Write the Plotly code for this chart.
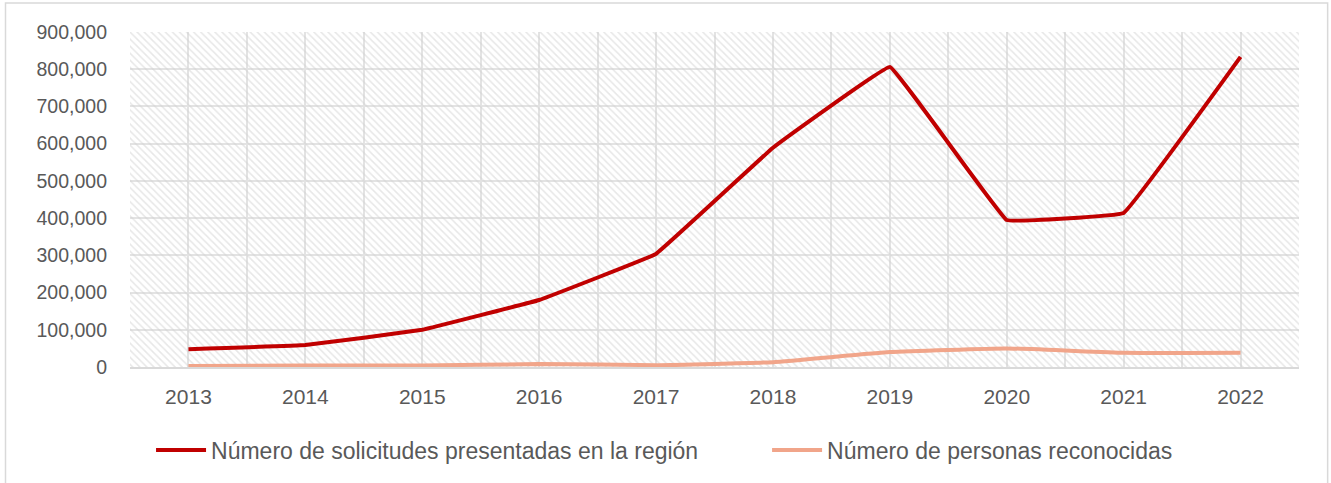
import plotly.graph_objects as go

years = [2013, 2014, 2015, 2016, 2017, 2018, 2019, 2020, 2021, 2022]
solicitudes = [48000, 59000, 100000, 180000, 304000, 589000, 806000, 395000, 414000, 833000]
reconocidas = [3000, 4000, 4000, 8000, 5000, 13000, 40000, 50000, 38000, 38000]
y_ticks = [0, 100000, 200000, 300000, 400000, 500000, 600000, 700000, 800000, 900000]

name_a = "Número de solicitudes presentadas en la región"
name_b = "Número de personas reconocidas"

FONT = "Liberation Sans"
TXT = "#595959"
GRID = "#E3E3E3"

fig = go.Figure()

# hatched plot-area background
fig.add_trace(go.Bar(
    x=years, y=[y_ticks[-1]] * len(years), width=1,
    marker=dict(color="rgba(0,0,0,0)", line=dict(width=0),
                pattern=dict(shape="\\", fgcolor="#CFCFCF", bgcolor="rgba(255,255,255,0)",
                             size=5, solidity=0.3, fillmode="overlay")),
    showlegend=False, hoverinfo="skip",
))

fig.add_trace(go.Scatter(
    x=years, y=solicitudes, mode="lines", name=name_a + "\u00a0" * 10,
    line=dict(color="#C00000", width=4, shape="spline", smoothing=0.15),
))
fig.add_trace(go.Scatter(
    x=years, y=reconocidas, mode="lines", name=name_b,
    line=dict(color="#F1A58A", width=4, shape="spline", smoothing=0.4),
))

fig.update_layout(
    width=1331, height=483,
    margin=dict(l=130, r=32, t=32, b=116, autoexpand=False),
    paper_bgcolor="white", plot_bgcolor="white",
    font=dict(family=FONT, size=18, color=TXT),
    bargap=0,
    showlegend=True,
    legend=dict(orientation="h", x=0.018, xanchor="left", y=-0.248, yanchor="middle",
                font=dict(family=FONT, size=23, color=TXT),
                itemwidth=50, tracegroupgap=0, bgcolor="rgba(0,0,0,0)"),
    shapes=[dict(type="rect", xref="paper", yref="paper",
                 x0=-0.1065, x1=1.0245, y0=-0.37, y1=1.0866,
                 line=dict(color="#D9D9D9", width=1.5), fillcolor="rgba(0,0,0,0)", layer="below")],
)

fig.update_xaxes(
    range=[2012.5, 2022.5], tickvals=years, ticktext=[str(y) for y in years],
    showgrid=True, gridcolor=GRID, gridwidth=1.5,
    minor=dict(tickvals=[y + 0.5 for y in [2012] + years], showgrid=True, gridcolor=GRID, gridwidth=1.5),
    showline=True, linecolor="#D9D9D9", linewidth=2,
    ticks="", ticklabelstandoff=10, zeroline=False,
    tickfont=dict(family=FONT, size=21, color=TXT),
)
fig.update_yaxes(
    range=[0, 900000], tickvals=y_ticks, tickformat=",",
    showgrid=True, gridcolor=GRID, gridwidth=1.5, zeroline=False,
    ticks="", ticklabelstandoff=22,
    tickfont=dict(family=FONT, size=19.5, color=TXT),
)

fig.write_html("out.html", config={"displayModeBar": False},
               post_script="document.body.style.margin='0';")
